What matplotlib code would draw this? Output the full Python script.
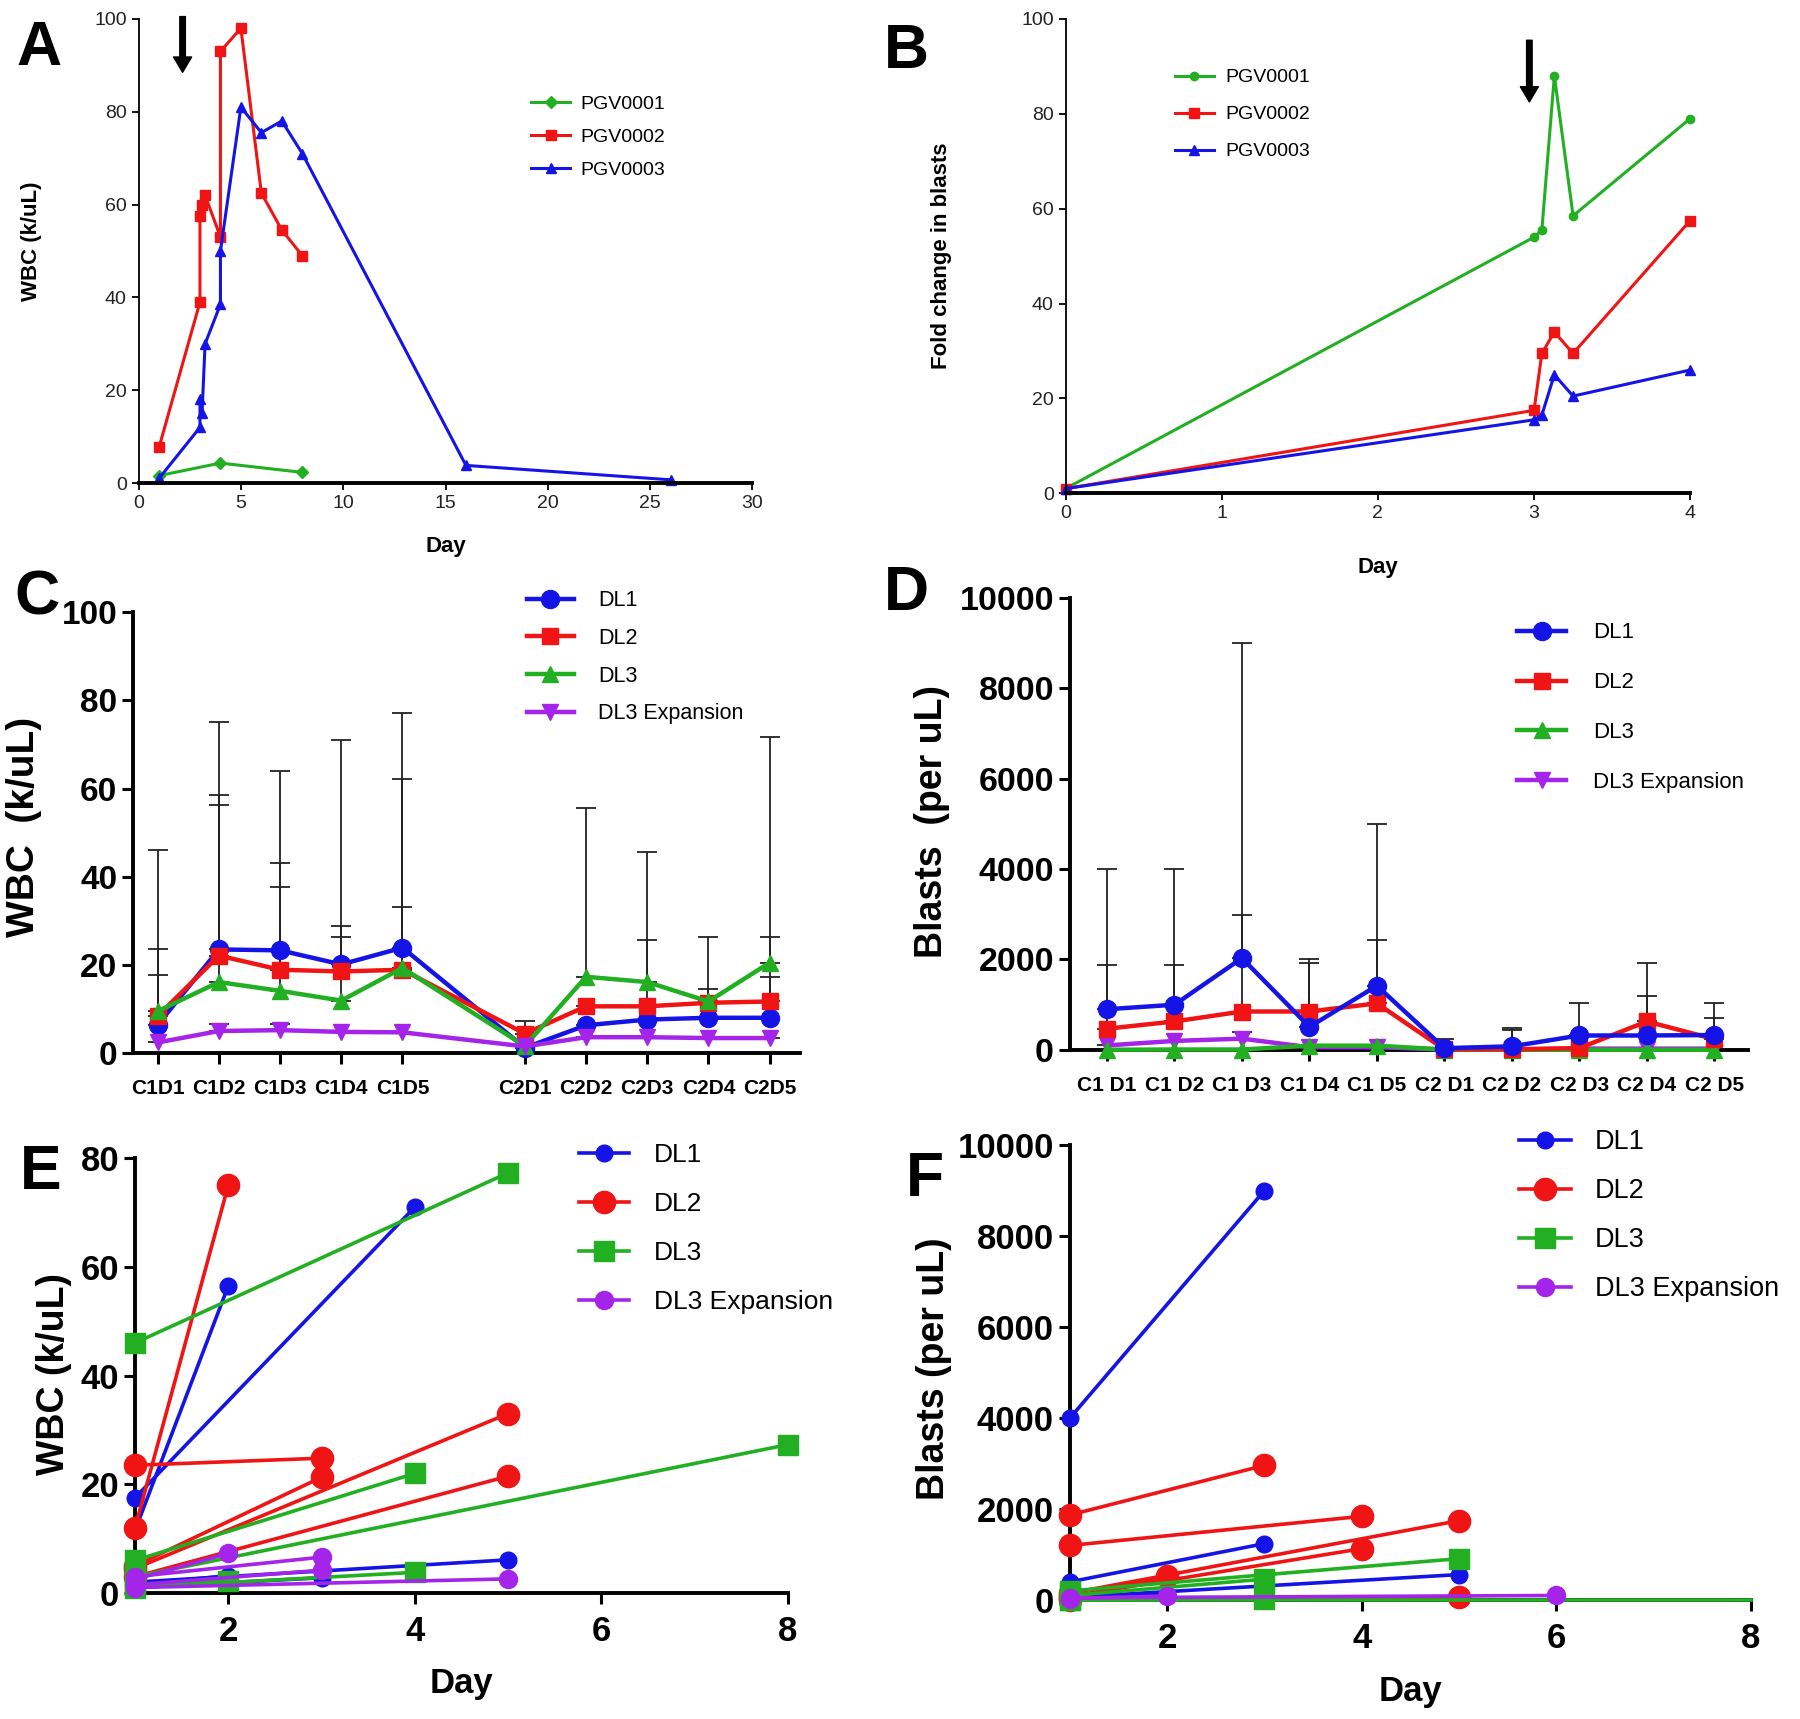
import numpy as np
import matplotlib
matplotlib.use("Agg")
import matplotlib.pyplot as plt

plt.rcParams['font.family'] = ['Liberation Sans', 'DejaVu Sans']

BLUE = '#1414e6'
RED = '#f01414'
GREEN = '#22b022'
PURPLE = '#a424ea'

# ---------------- Panel A: WBC per patient ----------------
a_days_1 = [1, 4, 8]
a_wbc_1 = [1.6, 4.3, 2.3]
a_days_2 = [1, 3, 3, 3.1, 3.25, 4, 4, 5, 6, 7, 8]
a_wbc_2 = [7.7, 39, 57.5, 60, 62, 53, 93, 98, 62.5, 54.5, 49]
a_days_3 = [1, 3, 3, 3.1, 3.25, 4, 4, 5, 6, 7, 8, 16, 26]
a_wbc_3 = [1, 12, 18, 15, 30, 38.5, 50, 81, 75.5, 78, 71, 3.8, 0.7]
a_patients = ['PGV0001', 'PGV0002', 'PGV0003']

# ---------------- Panel B: fold change in blasts ----------------
b_days = [0, 3, 3.05, 3.13, 3.25, 4]
b_fold_1 = [1, 54, 55.5, 88, 58.5, 79]
b_fold_2 = [1, 17.5, 29.5, 34, 29.5, 57.5]
b_fold_3 = [1, 15.5, 16.5, 25, 20.5, 26]

# ---------------- Panel C: WBC by dose level ----------------
c_labels = ['C1D1', 'C1D2', 'C1D3', 'C1D4', 'C1D5',
            'C2D1', 'C2D2', 'C2D3', 'C2D4', 'C2D5']
c_pos = [0, 1, 2, 3, 4, 6, 7, 8, 9, 10]
c_dl1 = [6.4, 23.5, 23.3, 20.1, 23.9, 1.2, 6.3, 7.6, 8.0, 8.0]
c_dl2 = [8.4, 22.1, 18.9, 18.5, 18.9, 4.4, 10.6, 10.6, 11.4, 11.7]
c_dl3 = [9.5, 16.1, 14.1, 11.9, 19.3, 1.6, 17.3, 16.1, 11.7, 20.5]
c_exp = [2.4, 5.0, 5.2, 4.8, 4.7, 1.5, 3.6, 3.6, 3.4, 3.4]
# tops of the (upper only) SD bars
c_dl1_top = [46.0, 75.0, 64.0, 71.0, 77.2, np.nan, np.nan, 25.7, 14.6, 17.3]
c_dl2_top = [23.6, 58.6, 43.0, 28.8, 62.1, 7.2, np.nan, np.nan, 26.3, 26.4]
c_dl3_top = [17.7, 56.3, 37.6, 26.3, 33.1, np.nan, 55.5, 45.7, np.nan, 71.6]
c_exp_top = [np.nan, 6.5, 6.5, np.nan, np.nan, np.nan, np.nan, np.nan, np.nan, np.nan]

# ---------------- Panel D: blasts by dose level ----------------
d_labels = ['C1 D1', 'C1 D2', 'C1 D3', 'C1 D4', 'C1 D5',
            'C2 D1', 'C2 D2', 'C2 D3', 'C2 D4', 'C2 D5']
d_dl1 = [900, 1000, 2030, 510, 1420, 40, 80, 320, 320, 330]
d_dl2 = [470, 630, 850, 850, 1030, 15, 15, 40, 630, 240]
d_dl3 = [5, 10, 10, 95, 95, 10, 5, 5, 5, 5]
d_exp = [100, 200, 250, 60, 60, 10, 10, 30, 30, 30]
d_dl1_top = [4000, 4000, 9000, 2000, 5000, 240, 490, 1030, 1190, 1045]
d_dl2_top = [1880, 1880, 2980, 1920, 2420, np.nan, 435, np.nan, 1920, 700]
d_dl3_top = [np.nan] * 10
d_exp_top = [np.nan, np.nan, 400, np.nan, np.nan, np.nan, np.nan, np.nan, np.nan, np.nan]

# ---------------- Panel E: individual WBC ----------------
e_dl1_days = [[1, 4], [1, 2], [1, 5], [1, 3], [1, 2]]
e_dl1_wbc = [[17.5, 71], [11.5, 56.5], [2, 6.1], [1, 2.8], [1.5, 3.2]]
e_dl2_days = [[1, 2], [1, 3], [1, 3], [1, 5], [1, 5]]
e_dl2_wbc = [[12, 75], [23.5, 24.8], [5, 21.3], [4.5, 33], [3, 21.5]]
e_dl3_days = [[1, 5], [1, 4], [1, 8], [1, 4], [1, 2]]
e_dl3_wbc = [[46, 77.3], [6, 22], [3, 27.3], [1, 3.8], [1.5, 2.2]]
e_exp_days = [[1, 2], [1, 3], [1, 5], [1, 3]]
e_exp_wbc = [[2.5, 7.3], [3, 6.6], [1, 2.6], [1.5, 4.2]]

# ---------------- Panel F: individual blasts ----------------
f_dl1_days = [[1, 3], [1, 3], [1, 5], [1, 2]]
f_dl1_bl = [[4000, 9000], [400, 1240], [60, 560], [20, 120]]
f_dl2_days = [[1, 3], [1, 4], [1, 5], [1, 4], [1, 2], [1, 5]]
f_dl2_bl = [[1870, 2960], [1200, 1840], [150, 1745], [80, 1130], [40, 520], [10, 70]]
f_dl3_days = [[1, 5], [1, 3], [1, 3], [1, 8]]
f_dl3_bl = [[200, 910], [100, 460], [0, 20], [0, 0]]
f_exp_days = [[1, 6], [1, 2]]
f_exp_bl = [[50, 100], [30, 90]]

dose_names = ['DL1', 'DL2', 'DL3', 'DL3 Expansion']


def style_axes(ax, lw_left, lw_bottom, tick_len, tick_w):
    ax.spines['top'].set_visible(False)
    ax.spines['right'].set_visible(False)
    ax.spines['left'].set_linewidth(lw_left)
    ax.spines['bottom'].set_linewidth(lw_bottom)
    ax.tick_params(direction='out', length=tick_len, width=tick_w)


fig = plt.figure(figsize=(18, 17.19), dpi=100)

# ---------- A ----------
axA = fig.add_axes([0.077, 0.719, 0.341, 0.270])
axA.plot(a_days_1, a_wbc_1, '-D', color=GREEN, lw=2.2, ms=6, label=a_patients[0], clip_on=False)
axA.plot(a_days_2, a_wbc_2, '-s', color=RED, lw=2.2, ms=7, label=a_patients[1], clip_on=False)
axA.plot(a_days_3, a_wbc_3, '-^', color=BLUE, lw=2.2, ms=7, label=a_patients[2], clip_on=False)
axA.set_xlim(0, 30)
axA.set_ylim(0, 100)
axA.set_xticks(range(0, 31, 5))
axA.set_yticks(range(0, 101, 20))
style_axes(axA, 1.3, 2.8, 5, 1.3)
axA.tick_params(labelsize=14, labelcolor='#222222')
axA.set_ylabel('WBC (k/uL)', fontsize=16, fontweight='bold')
axA.yaxis.set_label_coords(-0.158, 0.52)
axA.set_xlabel('Day', fontsize=16, fontweight='bold')
axA.xaxis.set_label_coords(0.5, -0.115)
axA.annotate('', xy=(2.15, 88.5), xytext=(2.15, 100.5),
             arrowprops=dict(width=4, headwidth=13, headlength=11, color='black'),
             annotation_clip=False)
axA.legend(loc='upper left', bbox_to_anchor=(0.64, 0.835), frameon=False,
           fontsize=14, borderpad=0, borderaxespad=0, labelspacing=0.78,
           handlelength=2.0, handletextpad=0.5)

# ---------- B ----------
axB = fig.add_axes([0.592, 0.713, 0.347, 0.276])
axB.plot(b_days, b_fold_1, '-o', color=GREEN, lw=2.2, ms=6, label=a_patients[0], clip_on=False)
axB.plot(b_days, b_fold_2, '-s', color=RED, lw=2.2, ms=7, label=a_patients[1], clip_on=False)
axB.plot(b_days, b_fold_3, '-^', color=BLUE, lw=2.2, ms=7, label=a_patients[2], clip_on=False)
axB.set_xlim(0, 4)
axB.set_ylim(0, 100)
axB.set_xticks(range(0, 5))
axB.set_yticks(range(0, 101, 20))
style_axes(axB, 1.3, 2.8, 5, 1.3)
axB.tick_params(labelsize=14, labelcolor='#222222')
axB.set_ylabel('Fold change in blasts', fontsize=16, fontweight='bold')
axB.yaxis.set_label_coords(-0.182, 0.5)
axB.set_xlabel('Day', fontsize=16, fontweight='bold')
axB.xaxis.set_label_coords(0.5, -0.135)
axB.annotate('', xy=(2.97, 82.5), xytext=(2.97, 95.5),
             arrowprops=dict(width=4, headwidth=13, headlength=11, color='black'),
             annotation_clip=False)
axB.legend(loc='upper left', bbox_to_anchor=(0.175, 0.895), frameon=False,
           fontsize=14, borderpad=0, borderaxespad=0, labelspacing=1.0,
           handlelength=2.0, handletextpad=0.6)


def upper_err(means, tops):
    m = np.array(means, dtype=float)
    t = np.array(tops, dtype=float)
    return [np.zeros_like(m), t - m]


# ---------- C ----------
axC = fig.add_axes([0.074, 0.3874, 0.3706, 0.2565])
c_series = [(c_dl1, c_dl1_top, BLUE, 'o', 13), (c_dl2, c_dl2_top, RED, 's', 12),
            (c_dl3, c_dl3_top, GREEN, '^', 12), (c_exp, c_exp_top, PURPLE, 'v', 12)]
for vals, tops, col, mk, ms in c_series:
    axC.errorbar(c_pos, vals, yerr=upper_err(vals, tops), fmt='none', ecolor='#222222',
                 elinewidth=1.3, capsize=7, capthick=1.3, zorder=2, clip_on=False)
for (vals, tops, col, mk, ms), name in zip(c_series, dose_names):
    axC.plot(c_pos[:5], vals[:5], '-', color=col, marker=mk, ms=ms, lw=3.2, label=name,
             zorder=3, clip_on=False)
    axC.plot(c_pos[4:6], vals[4:6], '-', color=col, lw=3.2, zorder=3, clip_on=False)
    axC.plot(c_pos[5:], vals[5:], '-', color=col, marker=mk, ms=ms, lw=3.2, zorder=3,
             clip_on=False)
axC.set_xlim(-0.4, 10.5)
axC.set_ylim(0, 100)
axC.set_xticks(c_pos)
axC.set_xticklabels(c_labels, fontsize=15, fontweight='bold')
axC.set_yticks(range(0, 101, 20))
style_axes(axC, 2.8, 2.8, 8, 2.2)
axC.tick_params(axis='x', pad=11)
axC.tick_params(axis='y', labelsize=24)
for t in axC.get_yticklabels():
    t.set_fontweight('bold')
axC.set_ylabel('WBC  (k/uL)', fontsize=28, fontweight='bold')
axC.yaxis.set_label_coords(-0.136, 0.512)
axC.legend(loc='upper left', bbox_to_anchor=(0.59, 1.05), frameon=False,
           fontsize=15.5, borderpad=0, borderaxespad=0, labelspacing=0.78,
           handlelength=2.2, handletextpad=1.1)

# ---------- D ----------
axD = fig.add_axes([0.5944, 0.3892, 0.3767, 0.2632])
d_pos = np.arange(len(d_labels))
d_series = [(d_dl1, d_dl1_top, BLUE, 'o', 13), (d_dl2, d_dl2_top, RED, 's', 12),
            (d_dl3, d_dl3_top, GREEN, '^', 12), (d_exp, d_exp_top, PURPLE, 'v', 12)]
for vals, tops, col, mk, ms in d_series:
    axD.errorbar(d_pos, vals, yerr=upper_err(vals, tops), fmt='none', ecolor='#222222',
                 elinewidth=1.3, capsize=7, capthick=1.3, zorder=2, clip_on=False)
for (vals, tops, col, mk, ms), name in zip(d_series[::-1], dose_names[::-1]):
    axD.plot(d_pos, vals, '-', color=col, marker=mk, ms=ms, lw=3.2, label=name,
             zorder=3, clip_on=False)
axD.set_xlim(-0.55, 9.5)
axD.set_ylim(0, 10000)
axD.set_xticks(d_pos)
axD.set_xticklabels(d_labels, fontsize=15, fontweight='bold')
axD.set_yticks(range(0, 10001, 2000))
style_axes(axD, 2.8, 2.8, 8, 2.2)
axD.tick_params(axis='x', pad=11)
axD.tick_params(axis='y', labelsize=24.5)
for t in axD.get_yticklabels():
    t.set_fontweight('bold')
axD.set_ylabel('Blasts  (per uL)', fontsize=27, fontweight='bold')
axD.yaxis.set_label_coords(-0.177, 0.504)
h, l = axD.get_legend_handles_labels()
axD.legend(h[::-1], l[::-1], loc='upper left', bbox_to_anchor=(0.66, 0.945), frameon=False,
           fontsize=16, borderpad=0, borderaxespad=0, labelspacing=1.3,
           handlelength=2.2, handletextpad=1.2)


def plot_segments(ax, days_list, vals_list, col, mk, ms, name, lw=2.6):
    for i, (d, v) in enumerate(zip(days_list, vals_list)):
        # a flat trace running off to the axis end is drawn without its last marker
        last = [0] if v[-1] == 0 and d[-1] == ax.get_xlim()[1] else None
        ax.plot(d, v, '-', color=col, marker=mk, ms=ms, lw=lw, markevery=last,
                label=name if i == 0 else None, clip_on=False, zorder=3)


# ---------- E ----------
axE = fig.add_axes([0.075, 0.0733, 0.3628, 0.253])
axE.set_xlim(1, 8)
axE.set_ylim(0, 80)
plot_segments(axE, e_dl1_days, e_dl1_wbc, BLUE, 'o', 12, dose_names[0])
plot_segments(axE, e_dl2_days, e_dl2_wbc, RED, 'o', 16, dose_names[1])
plot_segments(axE, e_dl3_days, e_dl3_wbc, GREEN, 's', 14, dose_names[2])
plot_segments(axE, e_exp_days, e_exp_wbc, PURPLE, 'o', 13, dose_names[3])
axE.set_xticks([2, 4, 6, 8])
axE.set_yticks(range(0, 81, 20))
style_axes(axE, 2.8, 2.8, 8, 2.2)
axE.tick_params(labelsize=25)
axE.tick_params(axis='x', pad=8)
for t in axE.get_xticklabels() + axE.get_yticklabels():
    t.set_fontweight('bold')
axE.set_ylabel('WBC (k/uL)', fontsize=27, fontweight='bold')
axE.yaxis.set_label_coords(-0.0965, 0.503)
axE.set_xlabel('Day', fontsize=25, fontweight='bold')
axE.xaxis.set_label_coords(0.5, -0.17)
axE.legend(loc='upper left', bbox_to_anchor=(0.68, 1.035), frameon=False,
           fontsize=19, borderpad=0, borderaxespad=0, labelspacing=0.95,
           handlelength=1.9, handletextpad=0.95)

# ---------- F ----------
axF = fig.add_axes([0.5944, 0.0692, 0.3783, 0.2647])
axF.set_xlim(1, 8)
axF.set_ylim(0, 10000)
plot_segments(axF, f_dl1_days, f_dl1_bl, BLUE, 'o', 12, dose_names[0])
plot_segments(axF, f_dl2_days, f_dl2_bl, RED, 'o', 16, dose_names[1])
plot_segments(axF, f_dl3_days, f_dl3_bl, GREEN, 's', 14, dose_names[2])
plot_segments(axF, f_exp_days, f_exp_bl, PURPLE, 'o', 13, dose_names[3])
axF.set_xticks([2, 4, 6, 8])
axF.set_yticks(range(0, 10001, 2000))
style_axes(axF, 2.8, 2.8, 8, 2.2)
axF.tick_params(labelsize=25)
axF.tick_params(axis='x', pad=8)
for t in axF.get_xticklabels() + axF.get_yticklabels():
    t.set_fontweight('bold')
axF.set_ylabel('Blasts (per uL)', fontsize=27, fontweight='bold')
axF.yaxis.set_label_coords(-0.173, 0.508)
axF.set_xlabel('Day', fontsize=25, fontweight='bold')
axF.xaxis.set_label_coords(0.5, -0.165)
axF.legend(loc='upper left', bbox_to_anchor=(0.66, 1.035), frameon=False,
           fontsize=19.5, borderpad=0, borderaxespad=0, labelspacing=0.85,
           handlelength=1.9, handletextpad=0.9)

# panel letters
for letter, x, y in [('A', 0.009, 0.989), ('B', 0.491, 0.987), ('C', 0.008, 0.669),
                     ('D', 0.491, 0.672), ('E', 0.011, 0.335), ('F', 0.503, 0.331)]:
    fig.text(x, y, letter, fontsize=45, fontweight='bold', ha='left', va='top')

fig.savefig('out.png', dpi=100)
